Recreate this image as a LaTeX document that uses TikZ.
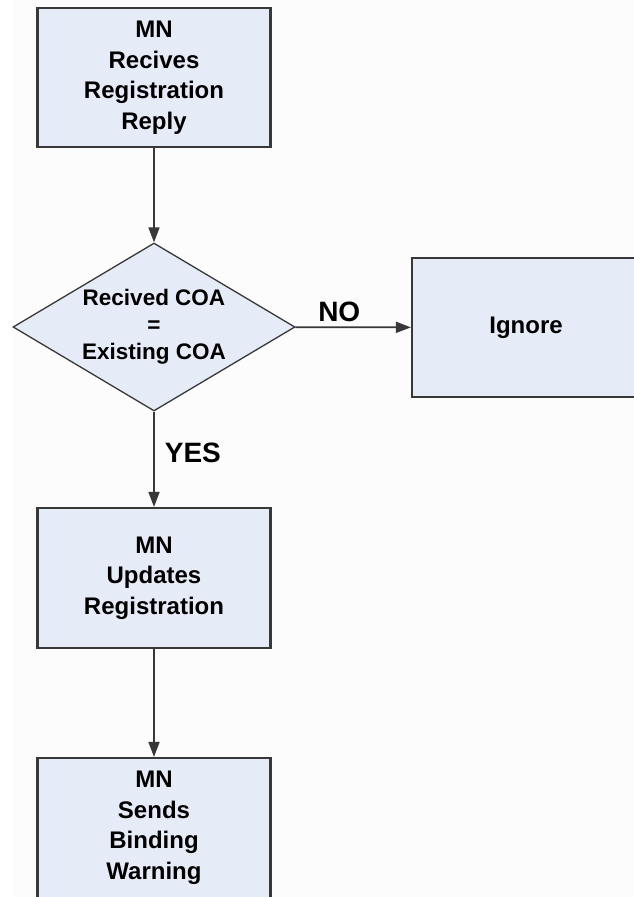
\documentclass[tikz,border=0pt]{standalone}
\usepackage{fontspec}
\setmainfont{Liberation Sans}
\usetikzlibrary{shapes.geometric,arrows.meta}
\definecolor{boxfill}{HTML}{E6ECF7}
\definecolor{edge}{HTML}{383838}
\definecolor{paper}{HTML}{FCFCFC}
\begin{document}
\begin{tikzpicture}[x=1pt,y=-1pt,
  stepbox/.style={draw=edge, line width=2.2pt, fill=boxfill,
    minimum width=233pt, minimum height=139pt, inner sep=0pt,
    align=center, font=\bfseries\fontsize{24}{30.5}\selectfont},
  decision/.style={diamond, draw=edge, line width=1.3pt, fill=boxfill,
    minimum width=282pt, minimum height=168pt, inner sep=0pt},
  decisiontext/.style={align=center, inner sep=0pt,
    font=\bfseries\fontsize{22.5}{27}\selectfont},
  flow/.style={draw=edge, line width=1.7pt,
    -{Triangle[length=15pt,width=11pt]}},
  tag/.style={font=\bfseries\fontsize{28}{32}\selectfont, inner sep=2pt}]
% page
\fill[white] (0,0) rectangle (634,897);
\fill[paper] (13,0) rectangle (634,897);
\useasboundingbox (0,0) rectangle (634,897);

% steps
\node[stepbox] (recv) at (154,77.5) {MN\\Recives\\Registration\\Reply};
\node[decision] (check) at (154,327) {};
\node[decisiontext] (checktext) at (check.center) {Recived COA\\=\\Existing COA};
\node[stepbox, minimum width=228pt] (ignore) at (526,327.5) {Ignore};
\node[stepbox, minimum height=140pt] (update) at (154,578) {MN\\Updates\\Registration};
\node[stepbox, minimum height=140pt] (warn) at (154,828) {MN\\Sends\\Binding\\Warning};

% connectors
\draw[flow] (recv) -- (check);
\draw[flow] (check) -- node[tag, pos=0.38, above=3pt] {NO} (ignore);
\draw[flow] (check) -- node[tag, pos=0.43, right=8pt] {YES} (update);
\draw[flow] (update) -- (warn);
\end{tikzpicture}
\end{document}
